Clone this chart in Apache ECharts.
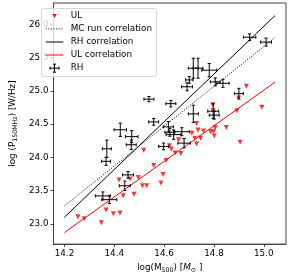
<!DOCTYPE html>
<html>
<head>
<meta charset="utf-8">
<script src="https://cdn.jsdelivr.net/npm/echarts@6/dist/echarts.min.js"></script>
<style>html,body{margin:0;padding:0;background:#fff;}#c{width:290px;height:278px;}</style>
</head>
<body>
<div id="c"></div>
<script>
// ---- data ----
const xTicks = [14.2, 14.4, 14.6, 14.8, 15.0];
const yTicks = [23.0, 23.5, 24.0, 24.5, 25.0, 25.5, 26.0];

// RH (radio halo) detections with errors
const rhX    = [14.943, 15.009, 14.717, 14.736, 14.781, 14.701, 14.692, 14.805, 14.836, 14.900, 14.627, 14.717, 14.797, 14.801, 14.539, 14.424, 14.470, 14.468, 14.558, 14.617, 14.623, 14.638, 14.671, 14.680, 14.598, 14.370, 14.367, 14.455, 14.442, 14.354, 14.380];
const rhY    = [25.805, 25.731, 25.339, 25.339, 25.310, 25.163, 25.060, 25.134, 25.112, 24.957, 24.806, 24.653, 24.693, 24.634, 24.874, 24.414, 24.311, 24.189, 24.532, 24.458, 24.377, 24.341, 24.385, 24.213, 24.164, 24.128, 23.940, 23.736, 23.573, 23.420, 23.364];
const rhXErr = [0.025, 0.022, 0.020, 0.020, 0.030, 0.015, 0.022, 0.020, 0.025, 0.018, 0.020, 0.020, 0.022, 0.020, 0.020, 0.025, 0.025, 0.020, 0.020, 0.020, 0.020, 0.030, 0.030, 0.025, 0.020, 0.018, 0.018, 0.022, 0.022, 0.030, 0.030];
const rhYErr = [0.050, 0.060, 0.150, 0.150, 0.100, 0.050, 0.060, 0.060, 0.060, 0.080, 0.050, 0.130, 0.110, 0.060, 0.040, 0.100, 0.090, 0.070, 0.050, 0.080, 0.060, 0.070, 0.060, 0.070, 0.050, 0.130, 0.060, 0.050, 0.070, 0.060, 0.060];

// UL (upper limits)
const ulX = [14.254, 14.279, 14.348, 14.367, 14.396, 14.423, 14.419, 14.436, 14.463, 14.479, 14.496, 14.513, 14.530, 14.518, 14.558, 14.587, 14.596, 14.608, 14.621, 14.629, 14.658, 14.644, 14.667, 14.730, 14.711, 14.736, 14.758, 14.786, 14.798, 14.805, 14.801, 14.849, 14.723, 14.746, 14.730, 14.905, 14.795, 14.796, 14.892, 14.992, 14.899, 14.930];
const ulY = [23.107, 23.078, 23.015, 23.210, 23.151, 23.162, 23.658, 23.423, 23.675, 23.445, 23.695, 23.573, 23.573, 24.106, 23.878, 23.614, 23.743, 23.954, 24.175, 24.125, 24.263, 24.066, 24.057, 24.507, 24.360, 24.410, 24.395, 24.385, 24.385, 24.443, 24.322, 24.448, 24.286, 24.286, 24.204, 24.228, 24.790, 24.700, 24.700, 24.752, 24.891, 25.068];

// correlation lines (end points)
const corrX   = [14.2, 15.045];
const mcCorrY = [23.27, 25.80];
const rhCorrY = [23.10, 26.13];
const ulCorrY = [22.87, 25.13];

const legendNames = ['UL', 'MC run correlation', 'RH correlation', 'UL correlation', 'RH'];

// ---- build ----
const FONT = 'DejaVu Sans';
const FS = 8.8;
const pair = (xs, ys) => xs.map((x, i) => [x, ys[i]]);

const chart = echarts.init(document.getElementById('c'), null, {renderer: 'canvas'});

const rhData = rhX.map((x, i) => [x, rhY[i], rhXErr[i], rhYErr[i]]);

function renderErr(params, api) {
  const x = api.value(0), y = api.value(1), ex = api.value(2), ey = api.value(3);
  const l = api.coord([x - ex, y]), r = api.coord([x + ex, y]);
  const t = api.coord([x, y + ey]), b = api.coord([x, y - ey]);
  const cap = 1.6;
  const st = {stroke: '#000', lineWidth: 1, fill: null};
  const ln = (x1, y1, x2, y2) => ({type: 'line', shape: {x1, y1, x2, y2}, style: st});
  return {type: 'group', children: [
    ln(l[0], l[1], r[0], r[1]),
    ln(t[0], t[1], b[0], b[1]),
    ln(l[0], l[1] - cap, l[0], l[1] + cap),
    ln(r[0], r[1] - cap, r[0], r[1] + cap),
    ln(t[0] - cap, t[1], t[0] + cap, t[1]),
    ln(b[0] - cap, b[1], b[0] + cap, b[1])
  ]};
}

const axisCommon = {
  type: 'value',
  axisLine: {show: true, lineStyle: {color: '#444', width: 1}},
  splitLine: {show: false},
  nameLocation: 'middle',
};

const rowY = [15.8, 28.9, 42.0, 55.0, 68.2];
const txtX = 70.7;
const legendGraphics = [
  {type: 'rect', shape: {x: 41.5, y: 8.5, width: 115, height: 68, r: 2.5},
   style: {fill: 'rgba(255,255,255,0.8)', stroke: '#d8d8d8', lineWidth: 1}, z: 100},
  {type: 'polygon', shape: {points: [[52.3, rowY[0] - 1.8], [56.7, rowY[0] - 1.8], [54.5, rowY[0] + 2]]},
   style: {fill: '#ff0000'}, z: 101},
  {type: 'line', shape: {x1: 45.7, y1: rowY[1], x2: 63.3, y2: rowY[1]},
   style: {stroke: '#000', lineWidth: 1, lineDash: [1, 1.6]}, z: 101},
  {type: 'line', shape: {x1: 45.7, y1: rowY[2], x2: 63.3, y2: rowY[2]},
   style: {stroke: '#000', lineWidth: 1}, z: 101},
  {type: 'line', shape: {x1: 45.7, y1: rowY[3], x2: 63.3, y2: rowY[3]},
   style: {stroke: '#ff0000', lineWidth: 1}, z: 101},
  {type: 'line', shape: {x1: 50, y1: rowY[4], x2: 59, y2: rowY[4]}, style: {stroke: '#000', lineWidth: 1}, z: 101},
  {type: 'line', shape: {x1: 54.5, y1: rowY[4] - 4, x2: 54.5, y2: rowY[4] + 4}, style: {stroke: '#000', lineWidth: 1}, z: 101},
  {type: 'line', shape: {x1: 50, y1: rowY[4] - 1.5, x2: 50, y2: rowY[4] + 1.5}, style: {stroke: '#000', lineWidth: 1}, z: 101},
  {type: 'line', shape: {x1: 59, y1: rowY[4] - 1.5, x2: 59, y2: rowY[4] + 1.5}, style: {stroke: '#000', lineWidth: 1}, z: 101},
  {type: 'line', shape: {x1: 53, y1: rowY[4] - 4, x2: 56, y2: rowY[4] - 4}, style: {stroke: '#000', lineWidth: 1}, z: 101},
  {type: 'line', shape: {x1: 53, y1: rowY[4] + 4, x2: 56, y2: rowY[4] + 4}, style: {stroke: '#000', lineWidth: 1}, z: 101}
].concat(legendNames.map((n, i) => ({
  type: 'text', x: txtX, y: rowY[i], z: 101,
  style: {text: n, font: FS + 'px "' + FONT + '"', fill: '#000', verticalAlign: 'middle', align: 'left'}
})));

const richName = {
  n: {fontSize: FS, fontFamily: FONT, color: '#000', lineHeight: 11, verticalAlign: 'middle'},
  i: {fontSize: FS, fontFamily: FONT, color: '#000', fontStyle: 'italic', lineHeight: 11, verticalAlign: 'middle'},
  s: {fontSize: 6.3, fontFamily: FONT, color: '#000', lineHeight: 6, verticalAlign: 'bottom'}
};

const option = {
  animation: false,
  backgroundColor: '#fff',
  grid: {left: 37, top: 3, width: 249, height: 247, show: true, borderColor: '#444', borderWidth: 1, backgroundColor: 'transparent'},
  xAxis: Object.assign({}, axisCommon, {
    min: 14.156, max: 15.089,
    name: '{n|log(M}{s|500}{n|) [}{i|M}{s|⊙}{n| ]}',
    nameGap: 12,
    nameTextStyle: {rich: richName, fontSize: FS, fontFamily: FONT},
    axisTick: {show: true, length: 3, lineStyle: {color: '#444'}, customValues: xTicks},
    axisLabel: {customValues: xTicks, fontSize: FS, fontFamily: FONT, color: '#000', margin: 5,
                formatter: v => Number(v).toFixed(1)}
  }),
  yAxis: Object.assign({}, axisCommon, {
    min: 22.696, max: 26.319,
    name: '{n|log (P}{s|150MHz}{n|) [W/Hz]}',
    nameGap: 22,
    nameRotate: 90,
    nameTextStyle: {rich: richName, fontSize: FS, fontFamily: FONT},
    axisTick: {show: true, length: 3, lineStyle: {color: '#444'}, customValues: yTicks},
    axisLabel: {customValues: yTicks, fontSize: FS, fontFamily: FONT, color: '#000', margin: 5,
                formatter: v => Number(v).toFixed(1)}
  }),
  series: [
    {name: 'UL', type: 'scatter', data: pair(ulX, ulY), symbol: 'triangle', symbolRotate: 180,
     symbolSize: 5, itemStyle: {color: '#ff0000'}, z: 2},
    {name: 'MC run correlation', type: 'line', data: pair(corrX, mcCorrY), symbol: 'none',
     lineStyle: {color: '#000', width: 1, type: [1, 1.6]}, z: 3},
    {name: 'RH correlation', type: 'line', data: pair(corrX, rhCorrY), symbol: 'none',
     lineStyle: {color: '#000', width: 1}, z: 3},
    {name: 'UL correlation', type: 'line', data: pair(corrX, ulCorrY), symbol: 'none',
     lineStyle: {color: '#ff0000', width: 1}, z: 3},
    {name: 'RH', type: 'custom', data: rhData, renderItem: renderErr,
     encode: {x: 0, y: 1}, z: 4}
  ],
  graphic: legendGraphics
};
chart.setOption(option);
</script>
</body>
</html>
